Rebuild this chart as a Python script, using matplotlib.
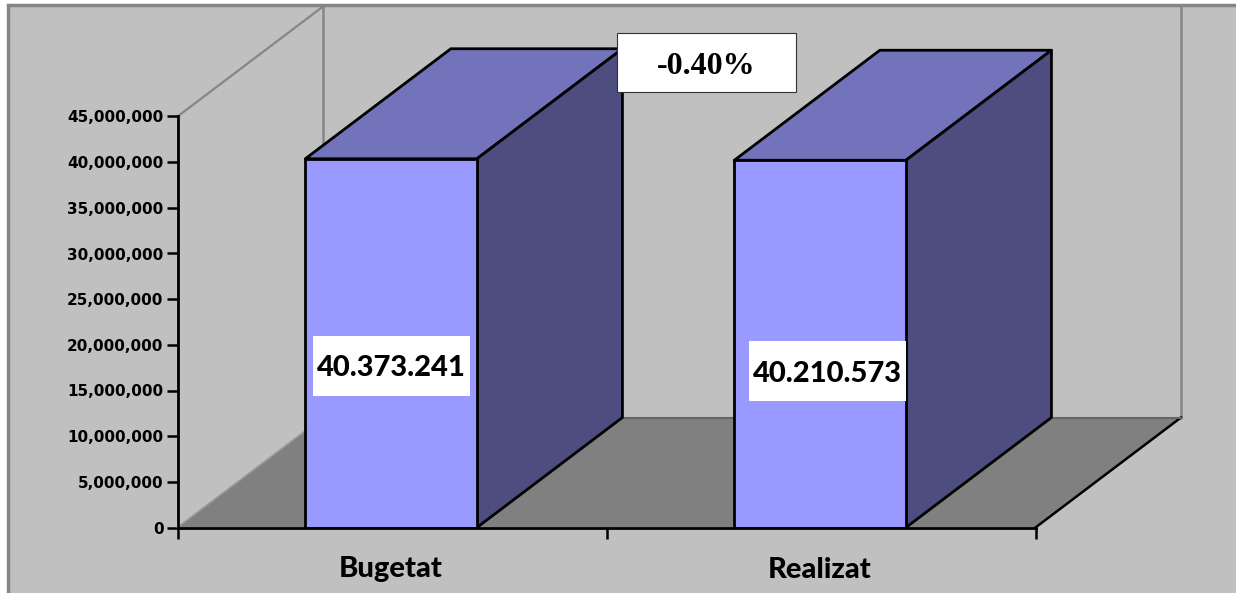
import matplotlib
matplotlib.use('Agg')
import matplotlib.pyplot as plt
from matplotlib.patches import Polygon, Rectangle

categories = ['Bugetat', 'Realizat']
values = [40373241, 40210573]
value_labels = ['40.373.241', '40.210.573']
yticks = [0, 5000000, 10000000, 15000000, 20000000, 25000000, 30000000, 35000000, 40000000, 45000000]
note = '-0.40%'

W, H = 1236, 593
# depth of the fake 3d, in data units
dx = 145.5 / 429
dy = 110 / 411 * 45000000
bar_left = 0.298
bar_w = 0.4

fig = plt.figure(figsize=(W / 100, H / 100), dpi=100, facecolor='white')

# outer chart frame, pixels
bg = fig.add_axes([0, 0, 1, 1])
bg.set_xlim(0, W)
bg.set_ylim(H, 0)
bg.axis('off')
bg.add_patch(Rectangle((8, 5), W + 20, H + 20, fc='#c0c0c0', ec='#868686', lw=2.5))

ax = fig.add_axes([177.5 / W, 1 - 527.5 / H, 858 / W, 411 / H])
ax.set_xlim(0, 2)
ax.set_ylim(0, 45000000)
ax.patch.set_alpha(0)
for s in ['top', 'right']:
    ax.spines[s].set_visible(False)
for s in ['left', 'bottom']:
    ax.spines[s].set_linewidth(2)
    ax.spines[s].set_zorder(8)

# floor
ax.add_patch(Polygon([(0, 0), (dx, dy), (2 + dx, dy), (2, 0)], closed=True, fc='#808080', ec='none', clip_on=False, zorder=1))
ax.plot([2, 2 + dx], [0, dy], color='black', lw=1.8, clip_on=False, zorder=2)
ax.plot([dx, 2 + dx], [dy, dy], color='#666666', lw=1.5, clip_on=False, zorder=2)
# walls
ymax = 45000000
ax.plot([0, dx], [ymax, ymax + dy], color='#868686', lw=1.6, clip_on=False, zorder=1)
ax.plot([dx, dx], [dy, ymax + dy], color='#868686', lw=1.8, clip_on=False, zorder=1)
ax.plot([2 + dx, 2 + dx], [dy, ymax + dy], color='#868686', lw=1.8, clip_on=False, zorder=1)
ax.plot([0, dx], [0, dy], color='#969696', lw=1.2, clip_on=False, zorder=2)

# bars
for i, v in enumerate(values):
    x0 = i + bar_left
    x1 = x0 + bar_w
    ax.add_patch(Polygon([(x0, v), (x1, v), (x1 + dx, v + dy), (x0 + dx, v + dy)], closed=True,
                         fc='#7373bb', ec='black', lw=2, joinstyle='round', clip_on=False, zorder=3))
    ax.add_patch(Polygon([(x1, 0), (x1 + dx, dy), (x1 + dx, v + dy), (x1, v)], closed=True,
                         fc='#4d4d7f', ec='black', lw=2, joinstyle='round', clip_on=False, zorder=3))
    ax.bar(x0, v, bar_w, align='edge', color='#9999ff', edgecolor='black', linewidth=2, zorder=4)

ax.set_yticks(yticks)
ax.set_yticklabels([f'{t:,}' for t in yticks], fontsize=11, fontweight='bold', family='DejaVu Sans')
ax.set_xticks([0, 1, 2])
ax.set_xticklabels(['', '', ''])
ax.tick_params(axis='y', length=8, width=1.8, pad=2)
ax.tick_params(axis='x', length=8, width=1.8)

for i, c in enumerate(categories):
    ax.text(i + 0.497, -42 / 411 * 45000000, c, ha='center', va='center', fontsize=21,
            fontweight='black', family='Lato', clip_on=False)

# value boxes
box_y = [366, 371]
box_x = [391.5, 827]
for px, py, lab in zip(box_x, box_y, value_labels):
    fig.text(px / W, 1 - (py + 2.5) / H, lab, ha='center', va='center', fontsize=21, fontweight='black',
             family='Lato', zorder=20)
    fig.add_artist(Rectangle(((px - 78.5) / W, 1 - (py + 30) / H), 157 / W, 60 / H, fc='white', ec='none',
                             transform=fig.transFigure, zorder=15))

fig.add_artist(Rectangle((617 / W, 1 - 92 / H), 179 / W, 59 / H, fc='white', ec='#333333', lw=0.8,
                         transform=fig.transFigure, zorder=15))
fig.text(706 / W, 1 - 66 / H, note, ha='center', va='center', fontsize=23, fontweight='bold',
         family='Liberation Serif', zorder=20)

fig.savefig('out.png', dpi=100, facecolor='white')
